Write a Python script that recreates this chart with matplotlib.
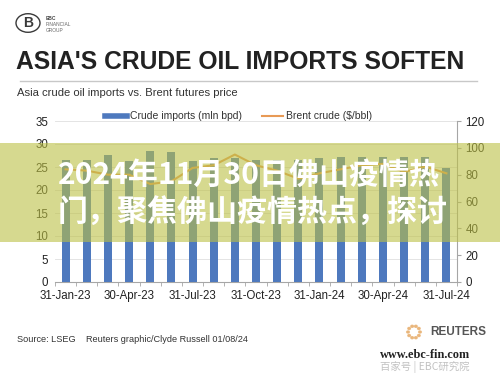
import matplotlib
matplotlib.use("Agg")
import matplotlib.pyplot as plt
from matplotlib.patches import Rectangle, Circle
import numpy as np

# ---- data ----
months = ["31-Jan-23", "28-Feb-23", "31-Mar-23", "30-Apr-23", "31-May-23", "30-Jun-23",
          "31-Jul-23", "31-Aug-23", "30-Sep-23", "31-Oct-23", "30-Nov-23", "31-Dec-23",
          "31-Jan-24", "29-Feb-24", "31-Mar-24", "30-Apr-24", "31-May-24", "30-Jun-24",
          "31-Jul-24"]
crude_imports = [26.5, 26.5, 27.6, 26.4, 28.5, 28.3, 26.2, 27.0, 27.0, 26.5, 26.5, 26.5,
                 27.0, 27.2, 27.2, 27.2, 27.2, 27.2, 24.8]
brent = [84, 83, 80, 80, 73, 75, 85, 87, 95, 87, 83, 77, 81, 84, 87, 88, 82, 86, 81]
left_ticks = [0, 5, 10, 15, 20, 25, 30, 35]
right_ticks = [0, 20, 40, 60, 80, 100, 120]

title = "ASIA'S CRUDE OIL IMPORTS SOFTEN"
subtitle = "Asia crude oil imports vs. Brent futures price"
source_left = "Source: LSEG"
source_right = "Reuters graphic/Clyde Russell 01/08/24"
overlay_lines = ["2024年11月30日佛山疫情热", "门，聚焦佛山疫情热点，探讨"]

plt.rcParams['font.family'] = ['Liberation Sans', 'DejaVu Sans']

W, H = 500, 387
fig = plt.figure(figsize=(W / 100, H / 100), dpi=100)
fig.patch.set_facecolor("white")

def fx(px):
    return px / W

def fy(py):
    return 1 - py / H

ax = fig.add_axes([fx(55), fy(282), fx(457) - fx(55), fy(121) - fy(282)])
ax2 = ax.twinx()

x = np.arange(len(months))
ax.bar(x, crude_imports, width=0.38, color="#4E79BE", zorder=3)
ax.set_xlim(-0.5, len(months) - 0.5)
ax.set_ylim(0, 35)
ax.set_yticks(left_ticks)
ax.grid(axis="y", color="#E4E4E4", linewidth=0.7, zorder=0)
ax.set_axisbelow(True)

ax2.plot(x, brent, color="#E89A55", linewidth=1.5, zorder=4)
ax2.set_ylim(0, 120)
ax2.set_yticks(right_ticks)

for a in (ax, ax2):
    a.spines["top"].set_visible(False)
    a.spines["left"].set_visible(False)
ax.spines["right"].set_visible(False)
ax2.spines["right"].set_color("#A6A6A6")
ax2.spines["bottom"].set_visible(False)
ax.spines["bottom"].set_color("#A6A6A6")

ax.set_xticks(x[::3])
ax.set_xticklabels(months[::3])
ax.set_xticks(np.arange(-0.5, len(months), 1.0), minor=True)
ax.tick_params(axis="x", which="major", length=0, labelsize=8.3, colors="#222222", pad=6)
ax.tick_params(axis="x", which="minor", length=3, color="#A6A6A6")
ax.tick_params(axis="y", length=0, labelsize=8.3, colors="#222222", pad=5)
ax2.tick_params(axis="y", length=3, color="#A6A6A6", labelsize=8.3, labelcolor="#222222", pad=3)

# header
fig.add_artist(Circle((fx(28), fy(23)), 12 / W, transform=fig.transFigure,
                      fill=False, edgecolor="#3A3A3A", linewidth=1.0))
fig.text(fx(28), fy(23), "B", ha="center", va="center", fontsize=10, color="#3A3A3A",
         fontweight="bold")
fig.text(fx(46), fy(18), "EBC", fontsize=3.5, color="#444444", fontweight="bold", va="center")
fig.text(fx(46), fy(25), "FINANCIAL", fontsize=3.5, color="#666666", va="center")
fig.text(fx(46), fy(31), "GROUP", fontsize=3.5, color="#666666", va="center")

fig.text(fx(16), fy(62), title, fontsize=17.7, fontweight="bold", color="#222222",
         va="center", ha="left")
fig.add_artist(plt.Line2D([fx(20), fx(477)], [fy(81), fy(81)], transform=fig.transFigure,
                          color="#C8C8C8", linewidth=1.0))
fig.text(fx(17), fy(93), subtitle, fontsize=8.1, color="#333333", va="center")

# legend
fig.add_artist(plt.Line2D([fx(105), fx(127)], [fy(116), fy(116)], transform=fig.transFigure,
                          color="#4E79BE", linewidth=4))
fig.text(fx(130), fy(116), "Crude imports (mln bpd)", fontsize=7.5, color="#333333", va="center")
fig.add_artist(plt.Line2D([fx(262), fx(283)], [fy(116), fy(116)], transform=fig.transFigure,
                          color="#E89A55", linewidth=1.5))
fig.text(fx(286), fy(116), "Brent crude ($/bbl)", fontsize=7.5, color="#333333", va="center")

# footer
fig.text(fx(17), fy(339), source_left, fontsize=6.6, color="#333333", va="center")
fig.text(fx(86), fy(339), source_right, fontsize=6.6, color="#333333", va="center")
for ang in np.linspace(0, 2 * np.pi, 10, endpoint=False):
    fig.add_artist(Circle((fx(414 + 6 * np.cos(ang)), fy(332 + 6 * np.sin(ang))), 1.3 / W,
                          transform=fig.transFigure, color="#E8B070", alpha=0.8))
fig.text(fx(430), fy(332), "REUTERS", fontsize=8.5, fontweight="bold", color="#555555", va="center")
fig.text(fx(380), fy(355), "www.ebc-fin.com", fontsize=8.8, fontweight="bold",
         family=["Liberation Serif", "DejaVu Serif"], color="#222222", va="center")
fig.text(fx(380), fy(367), "百家号 | EBC研究院", fontsize=7.5, color="#BBBBBB", va="center",
         family=["Noto Sans CJK SC", "DejaVu Sans"], alpha=0.9)

# overlay band
fig.add_artist(Rectangle((0, fy(242)), 1, fy(143) - fy(242), transform=fig.transFigure,
                         facecolor=(188 / 255, 192 / 255, 69 / 255), alpha=0.6,
                         edgecolor="none", zorder=10))
fig.text(fx(58), fy(175), overlay_lines[0], fontsize=21.6, fontweight="bold", color="white",
         family=["Noto Sans CJK SC", "DejaVu Sans"], va="center", ha="left", zorder=11)
fig.text(fx(58), fy(213), overlay_lines[1], fontsize=21.6, fontweight="bold", color="white",
         family=["Noto Sans CJK SC", "DejaVu Sans"], va="center", ha="left", zorder=11)

fig.savefig("out.png", dpi=100)
